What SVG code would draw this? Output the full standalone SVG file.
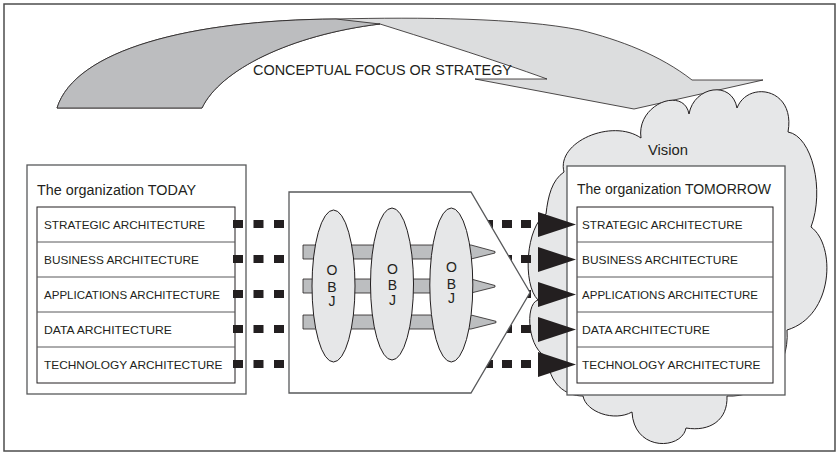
<svg xmlns="http://www.w3.org/2000/svg" width="837" height="453" viewBox="0 0 837 453">
<style>
text { font-family: "Liberation Sans", Arial, sans-serif; fill: #231f20; }
.frame { fill: #fff; stroke: #4d4d4d; stroke-width: 1.5; }
.box { fill: #fff; stroke: #58595b; stroke-width: 1.3; }
.tbl { fill: #fff; stroke: #231f20; stroke-width: 1; }
.row { stroke: #58595b; stroke-width: 1; fill: none; }
.lbl { font-size: 11.5px; }
.ttl { font-size: 14px; }
.dash { stroke: #231f20; stroke-width: 8; stroke-dasharray: 10 10.5; fill: none; }
.dr { stroke-dasharray: 10 9; }
.tri { fill: #231f20; }
.bar { fill: #bcbec0; stroke: #231f20; stroke-width: 0.8; }
.obj { fill: #e6e7e8; stroke: #231f20; stroke-width: 1; }
.ol { font-size: 14px; text-anchor: middle; }
.arrowDark { fill: #bcbdbf; stroke: #231f20; stroke-width: 0.8; }
.arrowLight { fill: #dcddde; stroke: #231f20; stroke-width: 0.8; }
.cloud { fill: #e6e7e8; stroke: #231f20; stroke-width: 1; }
</style>
<defs>
<polygon id="tri" class="tri" points="538,-12.5 576,0 538,12.5"/>
</defs>

<rect class="frame" x="4" y="4" width="831" height="447"/>

<g id="strategy">
<path class="arrowLight" d="M57,108 C75,50 190,20 336,19 C420,17 520,18 580,30 C620,40 660,55 692,80 L763,80 L634,109 L475,79 L547,79 C495,60 415,35 380,24 C290,35 220,70 202,108 Z"/>
<path class="arrowDark" d="M57,108 C75,50 190,20 336,19 L380,24 C290,35 220,70 202,108 Z"/>
<text x="253" y="75" font-size="14.5" textLength="259" lengthAdjust="spacingAndGlyphs">CONCEPTUAL FOCUS OR STRATEGY</text>
</g>

<g id="vision">
<path class="cloud" d="M564,172 C556,142 612,118 641,138 C636,104 684,86 689,114 C694,86 732,80 737,108 C748,80 796,88 788,132 C812,136 825,190 811,227 C836,245 834,316 787,330 C790,370 760,398 727,396 C728,420 710,432 686,428 C682,450 634,452 632,412 C614,422 586,412 583,396 C566,396 548,384 548,357 C528,352 524,304 538,300 C522,284 526,226 546,214 C548,196 552,180 564,172 Z"/>
<text class="ttl" x="648" y="155" textLength="40" lengthAdjust="spacingAndGlyphs">Vision</text>
</g>

<g id="today">
<rect class="box" x="27" y="165" width="219" height="229"/>
<text class="ttl" x="37" y="195" textLength="159" lengthAdjust="spacingAndGlyphs">The organization TODAY</text>
<rect class="tbl" x="37" y="207" width="198" height="176"/>
<path class="row" d="M37,242H235M37,277H235M37,312H235M37,347H235"/>
<text class="lbl" x="44" y="228.5" textLength="161" lengthAdjust="spacingAndGlyphs">STRATEGIC ARCHITECTURE</text>
<text class="lbl" x="44" y="263.5" textLength="155" lengthAdjust="spacingAndGlyphs">BUSINESS ARCHITECTURE</text>
<text class="lbl" x="44" y="298.5" textLength="176" lengthAdjust="spacingAndGlyphs">APPLICATIONS ARCHITECTURE</text>
<text class="lbl" x="44" y="333.5" textLength="128" lengthAdjust="spacingAndGlyphs">DATA ARCHITECTURE</text>
<text class="lbl" x="44" y="368.5" textLength="178.5" lengthAdjust="spacingAndGlyphs">TECHNOLOGY ARCHITECTURE</text>
</g>

<g id="tomorrow">
<rect class="box" x="567" y="166" width="218" height="229"/>
<text class="ttl" x="577" y="194" textLength="194" lengthAdjust="spacingAndGlyphs">The organization TOMORROW</text>
<rect class="tbl" x="577" y="207" width="196" height="176"/>
<path class="row" d="M577,242H773M577,277H773M577,312H773M577,347H773"/>
<text class="lbl" x="582" y="228.5" textLength="160.5" lengthAdjust="spacingAndGlyphs">STRATEGIC ARCHITECTURE</text>
<text class="lbl" x="582" y="263.5" textLength="156" lengthAdjust="spacingAndGlyphs">BUSINESS ARCHITECTURE</text>
<text class="lbl" x="582" y="298.5" textLength="176" lengthAdjust="spacingAndGlyphs">APPLICATIONS ARCHITECTURE</text>
<text class="lbl" x="582" y="333.5" textLength="128" lengthAdjust="spacingAndGlyphs">DATA ARCHITECTURE</text>
<text class="lbl" x="582" y="368.5" textLength="178.5" lengthAdjust="spacingAndGlyphs">TECHNOLOGY ARCHITECTURE</text>
</g>

<g id="connectors">
<g id="c-strategic"><path class="dash" d="M233,224H284"/><path class="dash dr" d="M483,224H531"/><use href="#tri" y="224.5"/></g>
<g id="c-business"><path class="dash" d="M233,259H284"/><path class="dash dr" d="M483,259H531"/><use href="#tri" y="259.5"/></g>
<g id="c-applications"><path class="dash" d="M233,294H284"/><path class="dash dr" d="M483,294H531"/><use href="#tri" y="294.5"/></g>
<g id="c-data"><path class="dash" d="M233,329H284"/><path class="dash dr" d="M483,329H531"/><use href="#tri" y="329.5"/></g>
<g id="c-technology"><path class="dash" d="M233,364H284"/><path class="dash dr" d="M483,364H531"/><use href="#tri" y="364.5"/></g>
</g>

<g id="transition">
<polygon class="box" points="289,192 471,192 530,292.5 471,393 289,393"/>
<path class="bar" d="M303,245H471L495,251.5V253L471,259H303Z"/>
<path class="bar" d="M303,279H471L495,285.5V287L471,293H303Z"/>
<path class="bar" d="M303,315H471L496,321.3V322.7L471,329H303Z"/>
<g id="obj1">
<ellipse class="obj" cx="333.5" cy="286" rx="21.5" ry="76"/>
<text class="ol" x="332" y="275">O</text><text class="ol" x="332" y="291.5">B</text><text class="ol" x="332" y="306">J</text>
</g>
<g id="obj2">
<ellipse class="obj" cx="392" cy="284" rx="21.5" ry="76"/>
<text class="ol" x="392.5" y="273.5">O</text><text class="ol" x="392.5" y="290">B</text><text class="ol" x="392.5" y="304.5">J</text>
</g>
<g id="obj3">
<ellipse class="obj" cx="451.3" cy="285" rx="21.5" ry="77"/>
<text class="ol" x="451.5" y="272">O</text><text class="ol" x="451.5" y="288.5">B</text><text class="ol" x="451.5" y="303">J</text>
</g>
</g>
</svg>
